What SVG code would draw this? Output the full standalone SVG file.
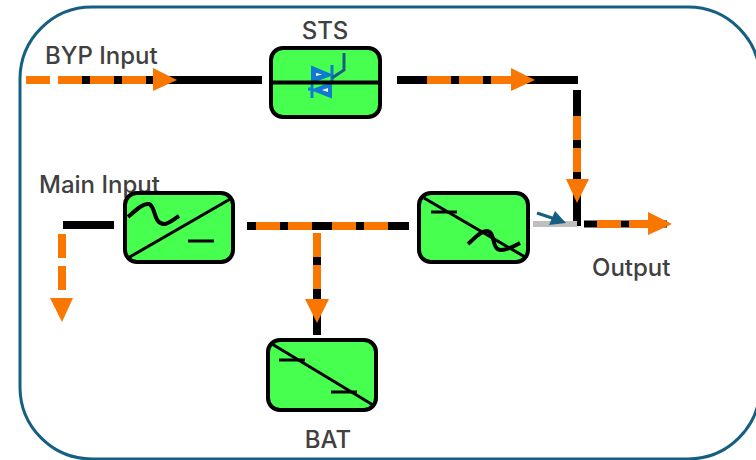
<svg xmlns="http://www.w3.org/2000/svg" width="756" height="460" viewBox="0 0 756 460">
  <defs>
    <style>
      .lbl { font-family: "Inter", "Noto Sans", sans-serif; font-size: 24px; font-weight: 500; fill: #404040; }
      .box { fill: #47ff4f; stroke: #000; stroke-width: 4; }
      .ln { stroke: #000; fill: none; }
      .blk { stroke: #000; stroke-width: 8; fill: none; }
      .flow { stroke: #f97600; stroke-width: 8; fill: none; stroke-dasharray: 24 8; }
      .head { fill: #f97600; }
      .thy { fill: #0f7ad0; stroke: #0f7ad0; stroke-width: 2; }
      .thyl { stroke: #0f7ad0; stroke-width: 3; fill: none; }
    </style>
  </defs>
  <rect id="frame" x="20" y="7" width="740" height="452" rx="72" ry="72" fill="#fff" stroke="#156082" stroke-width="3"/>
  <text class="lbl" x="45" y="64">BYP Input</text>
  <text class="lbl" x="39" y="193">Main Input</text>
  <text class="lbl" x="592" y="276">Output</text>
  <g id="connectors">
    <path class="blk" d="M75 80H262"/>
    <path class="blk" d="M397 80H578"/>
    <path class="blk" d="M577 90V226"/>
    <path class="ln" stroke-width="7" d="M584 224H667"/>
    <path d="M533 224H577" stroke="#bfbfbf" stroke-width="6" fill="none"/>
    <path class="blk" d="M63 225H114"/>
    <path class="blk" d="M247 226H409"/>
    <path class="blk" d="M317 233V335"/>
    <path class="flow" d="M26 80H146"/>
    <polygon class="head" points="153,68 177,80 153,91"/>
    <path class="flow" d="M427 80H515"/>
    <polygon class="head" points="511,68 535,80 511,91"/>
    <path class="flow" d="M577 116V180"/>
    <polygon class="head" points="566,179 589,179 577,203"/>
    <path class="flow" d="M597 224H650"/>
    <polygon class="head" points="648,212 672,224 648,235"/>
    <path class="flow" d="M62 234V290"/>
    <polygon class="head" points="50,298 73,298 62,322"/>
    <path class="flow" d="M256 226H312"/>
    <path class="flow" d="M332 226H388"/>
    <path class="flow" d="M317 233V289"/>
    <polygon class="head" points="305,299 329,299 317,323"/>
    <path d="M537 213L555 219" stroke="#156082" stroke-width="3" fill="none"/>
    <polygon points="555,211 566,223 549,225" fill="#156082"/>
  </g>
  <g id="sts">
    <rect class="box" x="271" y="48" width="109" height="69" rx="12"/>
    <polygon class="thy" points="312,67 331,75 312,82"/>
    <path class="thyl" d="M332 65V82"/>
    <polygon points="316,73 322,74.500 316,76" fill="#fff"/>
    <polygon class="thy" points="331,83 313,90 331,97"/>
    <path class="thyl" d="M312 82V98M308 89H312"/>
    <polygon points="328,88 322,90 328,92" fill="#fff"/>
    <path d="M332 78L344 70V53" stroke="#156082" stroke-width="3" fill="none"/>
    <path class="ln" stroke-width="4" d="M271 82.500H380"/>
    <text class="lbl" x="325" y="39" text-anchor="middle">STS</text>
  </g>
  <g id="rectifier">
    <rect class="box" x="125" y="193" width="108" height="69" rx="12"/>
    <path class="ln" stroke-width="3" d="M128 258L232 198"/>
    <path class="ln" stroke-width="4" d="M128 217C136 210 143 203 149 204C156 206 153 224 164 224C169 224 174 219 179 216"/>
    <path class="ln" stroke-width="3" d="M188 241H214"/>
  </g>
  <g id="inverter">
    <rect class="box" x="419" y="193" width="109" height="69" rx="12"/>
    <path class="ln" stroke-width="3" d="M424 198L525 257"/>
    <path class="ln" stroke-width="3" d="M431 212H457"/>
    <path class="ln" stroke-width="4" d="M468 244C474 239 480 231 487 231C496 232 491 250 501 250C508 250 514 246 520 243"/>
  </g>
  <g id="bat">
    <rect class="box" x="268" y="340" width="108" height="70" rx="12"/>
    <path class="ln" stroke-width="3" d="M272 344L373 405"/>
    <path class="ln" stroke-width="3" d="M279 360H305M331 392H357"/>
    <text class="lbl" x="328" y="448" text-anchor="middle">BAT</text>
  </g>
</svg>
